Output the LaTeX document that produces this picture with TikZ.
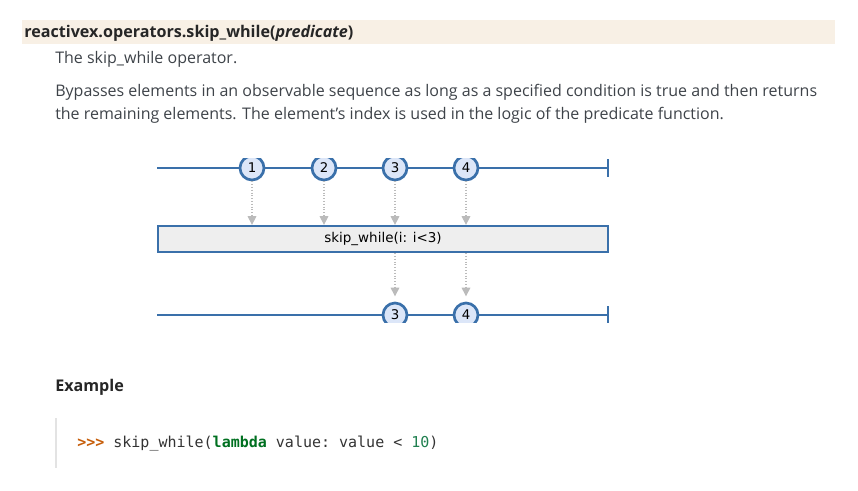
\documentclass[tikz,border=0pt]{standalone}
\usepackage{fontspec}
\setmainfont{Open Sans}
\setmonofont{DejaVu Sans Mono}
\newfontfamily\diafont{DejaVu Sans}
\usepackage{xcolor}
\usepackage{tikz}
\usetikzlibrary{positioning,arrows.meta}

\definecolor{textgray}{HTML}{3E4349}
\definecolor{bandbeige}{HTML}{F8F0E5}
\definecolor{rxblue}{HTML}{3A70AA}
\definecolor{marblefill}{HTML}{DCE6F8}
\definecolor{boxgray}{HTML}{EEEEEE}
\definecolor{arrowgray}{HTML}{BBBBBB}
\definecolor{barGray}{HTML}{E3E3E3}
\definecolor{promptorange}{HTML}{C65D09}
\definecolor{kwgreen}{HTML}{007020}
\definecolor{numgreen}{HTML}{208050}

\tikzset{
  txt/.style={anchor=base west, inner sep=0pt, text=textgray, font=\fontsize{12}{14}\selectfont},
  timeline/.style={draw=rxblue, line width=2.1pt},
  endtick/.style={draw=rxblue, line width=1.6pt},
  marble/.style={circle, draw=rxblue, fill=marblefill, line width=2pt, minimum size=18pt, inner sep=0pt, font=\diafont\fontsize{10}{10}\selectfont},
  opbox/.style={rectangle, draw=rxblue, fill=boxgray, line width=1.7pt, minimum width=337.5pt, minimum height=19.5pt, inner sep=0pt, font=\diafont\fontsize{10.1}{10}\selectfont},
  flow/.style={draw=arrowgray, line width=0.8pt, dash pattern=on 0.8pt off 1.3pt, -{Triangle[width=6.5pt, length=6.5pt, fill=arrowgray]}}
}

\begin{document}
\begin{tikzpicture}[x=0.75pt, y=-0.75pt]
    \useasboundingbox (0,0) rectangle (858,490);

    % Heading
    \fill[bandbeige] (22,20) rectangle (835,44);
    \node[txt, text=black!85, font=\fontsize{12.1}{14}\selectfont\bfseries] (title) at (24,37) {reactivex.operators.skip\_while(\textit{predicate})};
    \node[txt] (summary) at (55,63) {The skip\_while operator.};
    \node[txt] (desc1) at (55,96) {Bypasses elements in an observable sequence as long as a specified condition is true and then returns};
    \node[txt] (desc2) at (55,119) {the remaining elements. The element’s index is used in the logic of the predicate function.};

    % Marble diagram
    \begin{scope}
        \clip (140,158) rectangle (630,322);
        % source sequence
        \coordinate (srcstart) at (157,168);
        \coordinate (srcend) at (608,168);
        \draw[timeline] (srcstart) -- (srcend);
        \draw[endtick] (608,159) -- (608,177);
        \foreach \i/\x in {1/252,2/324,3/395,4/466}
            \node[marble] (src\i) at (\x,168) {\i};

        % operator
        \node[opbox] (op) at (383,239) {skip\_while(i: i<3)};

        % result sequence
        \coordinate (resstart) at (157,315);
        \coordinate (resend) at (608,315);
        \draw[timeline] (resstart) -- (resend);
        \draw[endtick] (608,306) -- (608,324);
        \foreach \i/\x in {3/395,4/466}
            \node[marble] (res\i) at (\x,315) {\i};

        % arrows
        \foreach \i in {1,2,3,4}
            \draw[flow] (src\i) -- (src\i |- op.north);
        \foreach \i in {3,4}
            \draw[flow] (op.south -| res\i) -- ([yshift=4pt]res\i.north);
    \end{scope}

    % Example
    \node[txt, text=black!85, font=\fontsize{12.1}{14}\selectfont\bfseries] (example) at (55,391) {Example};
    \draw[barGray, line width=1.5pt] (56,418) -- (56,468);
    \node[txt, text=black!80, font=\ttfamily\fontsize{11.25}{14}\selectfont] (code) at (77,447)
        {\textcolor{promptorange}{\bfseries >{}>{}>} skip\_while(\textcolor{kwgreen}{\bfseries lambda} value: value < \textcolor{numgreen}{10})};
\end{tikzpicture}
\end{document}
